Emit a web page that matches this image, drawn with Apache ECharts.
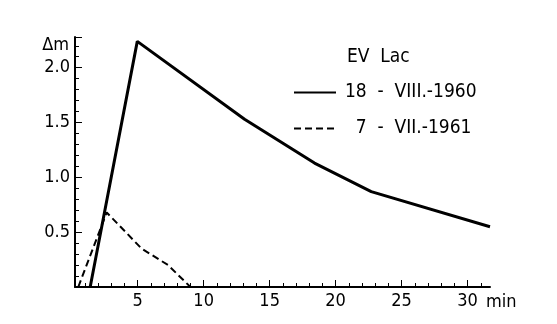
<!DOCTYPE html>
<html><head><meta charset="utf-8">
<script src="https://cdn.jsdelivr.net/npm/echarts@6/dist/echarts.min.js"></script>
<style>html,body{margin:0;padding:0;background:#fff}#c{width:557px;height:324px}</style>
</head><body><div id="c"></div>
<script>
const seriesNames = ['18  -  VIII.-1960', '  7  -  VII.-1961'];
const solidX = [1.4, 4.97, 13.1, 18.4, 22.7, 31.7];
const solidY = [0, 2.24, 1.53, 1.13, 0.87, 0.55];
const dashX = [0.5, 2.65, 5.3, 7.3, 9.0];
const dashY = [0, 0.68, 0.35, 0.2, 0];
const xMajorTicks = [5, 10, 15, 20, 25, 30];
const xMinorTicks = [1,2,3,4,6,7,8,9,11,12,13,14,16,17,18,19,21,22,23,24,26,27,28,29,31];
const titleText = 'EV  Lac';

const FONT = '"DejaVu Sans Condensed",sans-serif';
const chart = echarts.init(document.getElementById('c'));
const zip = (xs, ys) => xs.map((x, i) => [x, ys[i]]);
chart.setOption({
  animation: false,
  backgroundColor: '#fff',
  title: { text: titleText, left: 342, top: 43, textStyle: { fontFamily: FONT, fontSize: 19, fontWeight: 'normal', color: '#000' } },
  legend: {
    orient: 'vertical', left: 288, top: 78, itemWidth: 42, itemHeight: 14, itemGap: 17,
    itemStyle: { opacity: 0 },
    textStyle: { fontFamily: FONT, fontSize: 19, color: '#000', padding: [0, 0, 0, 4] },
    data: seriesNames
  },
  grid: { left: 75, right: 67, top: 37, bottom: 37 },
  xAxis: [{
    type: 'value', min: 0.25, max: 31.7, position: 'bottom',
    axisLine: { onZero: false, lineStyle: { color: '#000', width: 2 } },
    axisTick: { inside: true, length: 7, customValues: xMajorTicks, lineStyle: { color: '#000', width: 1 } },
    axisLabel: { customValues: xMajorTicks, margin: 5, fontFamily: FONT, fontSize: 18, color: '#000' },
    splitLine: { show: false },
    name: 'min', nameLocation: 'end', nameGap: -4,
    nameTextStyle: { fontFamily: FONT, fontSize: 18, color: '#000', verticalAlign: 'top', align: 'left', padding: [6, 0, 0, 0] }
  }, {
    type: 'value', min: 0.25, max: 31.7, position: 'bottom',
    axisLine: { show: false },
    axisTick: { inside: true, length: 4, customValues: xMinorTicks, lineStyle: { color: '#000', width: 1 } },
    axisLabel: { show: false }, splitLine: { show: false }
  }],
  yAxis: {
    type: 'value', min: 0, max: 2.28, interval: 0.5,
    axisLine: { show: true, onZero: false, lineStyle: { color: '#000', width: 2 } },
    axisTick: { show: true, inside: true, length: 7, lineStyle: { color: '#000' } },
    minorTick: { show: true, splitNumber: 5, length: 4, lineStyle: { color: '#000' } },
    axisLabel: { margin: 5, fontFamily: FONT, fontSize: 18, color: '#000', showMaxLabel: false,
      formatter: v => v === 0 ? '' : v.toFixed(1) },
    splitLine: { show: false },
    name: 'Δm', nameLocation: 'end', nameGap: -8,
    nameTextStyle: { fontFamily: FONT, fontSize: 18, color: '#000', align: 'right', verticalAlign: 'middle', padding: [0, 6, 0, 0] }
  },
  series: [{
    name: seriesNames[0], type: 'line', data: zip(solidX, solidY), symbol: 'none',
    lineStyle: { color: '#000', width: 3 }, itemStyle: { color: '#000' }
  }, {
    name: seriesNames[1], type: 'line', data: zip(dashX, dashY), symbol: 'none',
    lineStyle: { color: '#000', width: 2, type: [7, 4] }, itemStyle: { color: '#000' }
  }]
});
</script></body></html>
